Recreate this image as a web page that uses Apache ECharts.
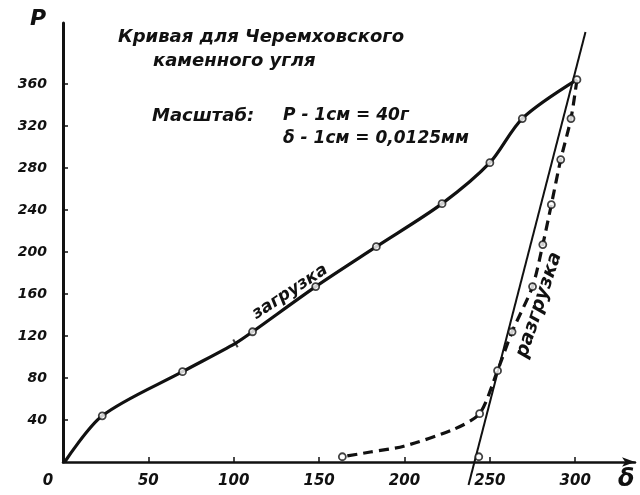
<!DOCTYPE html>
<html><head><meta charset="utf-8">
<script src="https://cdn.jsdelivr.net/npm/echarts@6/dist/echarts.min.js"></script>
<style>html,body{margin:0;padding:0;background:#fff}#c{width:640px;height:495px}</style>
</head><body><div id="c"></div>
<script>
const xTicks=[0,50,100,150,200,250,300];
const yTicks=[40,80,120,160,200,240,280,320,360];
// loading curve (загрузка)
const loadDelta=[1,23,70,101,111,148,183.5,222,250,269,301];
const loadP=[0,44,86,113,124,167,205,246,285,327,364];
const loadMarkDelta=[23,70,111,148,183.5,222,250,269,301];
const loadMarkP=[44,86,124,167,205,246,285,327,364];
const crossDelta=[101];
const crossP=[113];
// unloading curve (разгрузка)
const unloadDelta=[301,297.5,291.5,286,281,275,263,254.5,244,228.7,199.6,180,163.6];
const unloadP=[364,327,288,245,207,167,124,87,46,31,15,9.5,5];
const unloadMarkDelta=[297.5,291.5,286,281,275,263,254.5,244,163.6];
const unloadMarkP=[327,288,245,207,167,124,87,46,5];
// straight tangent line
const tangentDelta=[237.5,306];
const tangentP=[-22,409.5];
const interceptDelta=[243.5];
const interceptP=[5];

const zip=(a,b)=>a.map((v,i)=>[v,b[i]]);
const F="'DejaVu Sans'";
const lbl={fontFamily:'DejaVu Sans',fontStyle:'italic',fontWeight:'bold',fontSize:14,color:'#111'};
const circ={type:'scatter',symbol:'circle',symbolSize:7,itemStyle:{color:'#fff',borderColor:'#111',borderWidth:1.8},z:5,silent:true};

const chart=echarts.init(document.getElementById('c'));
chart.setOption({
  animation:false,
  backgroundColor:'#fff',
  grid:{left:63,right:5,top:23,bottom:33,outerBoundsMode:'none',containLabel:false},
  xAxis:{type:'value',min:0,max:335,
    axisLine:{show:true,onZero:false,symbol:['none','arrow'],symbolSize:[7,13],lineStyle:{color:'#111',width:2.5}},
    axisTick:{show:true,inside:true,length:5,customValues:xTicks.slice(1),lineStyle:{color:'#111',width:1.5}},
    axisLabel:Object.assign({},lbl,{fontSize:15,margin:12,customValues:xTicks,
      formatter:v=>v===0?'{z|0}':String(v),rich:{z:Object.assign({},lbl,{fontSize:15,padding:[0,30,0,0]})}}),
    splitLine:{show:false}},
  yAxis:{type:'value',min:0,max:418,
    axisLine:{show:true,onZero:false,lineStyle:{color:'#111',width:3}},
    axisTick:{show:true,inside:true,length:5,customValues:yTicks,lineStyle:{color:'#111',width:1.5}},
    axisLabel:Object.assign({},lbl,{margin:16,customValues:yTicks}),
    splitLine:{show:false}},
  series:[
    {type:'line',data:zip(loadDelta,loadP),smooth:0.3,symbol:'none',
      lineStyle:{color:'#111',width:3.2},silent:true,z:3},
    {type:'line',data:zip(unloadDelta,unloadP),smooth:0.25,symbol:'none',
      lineStyle:{color:'#111',width:3.2,type:[10,6]},silent:true,z:3},
    {type:'line',data:zip(tangentDelta,tangentP),symbol:'none',clip:false,
      lineStyle:{color:'#111',width:2},silent:true,z:2},
    Object.assign({},circ,{data:zip(loadMarkDelta,loadMarkP)}),
    Object.assign({},circ,{data:zip(unloadMarkDelta,unloadMarkP)}),
    Object.assign({},circ,{data:zip(interceptDelta,interceptP)}),
    {type:'scatter',data:zip(crossDelta,crossP),symbol:'path://M5,0L5,10M0,5L10,5',symbolSize:9,symbolRotate:30,
      itemStyle:{color:'none',borderColor:'#111',borderWidth:2},z:5,silent:true}
  ],
  graphic:[
    {type:'text',x:118,y:28,style:{text:'Кривая для Черемховского',font:"italic bold 18px "+F,fill:'#111'}},
    {type:'text',x:153,y:52,style:{text:'каменного угля',font:"italic bold 18px "+F,fill:'#111'}},
    {type:'text',x:152,y:107,style:{text:'Масштаб:',font:"italic bold 18px "+F,fill:'#111'}},
    {type:'text',x:283,y:107,style:{text:'P - 1см = 40г',font:"italic bold 17px "+F,fill:'#111'}},
    {type:'text',x:283,y:130,style:{text:'δ - 1см = 0,0125мм',font:"italic bold 17px "+F,fill:'#111'}},
    {type:'text',x:30,y:8,style:{text:'P',font:"italic bold 22px "+F,fill:'#111'}},
    {type:'text',x:618,y:468,style:{text:'δ',font:"italic bold 24px "+F,fill:'#111'}},
    {type:'text',x:290,y:292,rotation:0.58,style:{text:'загрузка',font:"italic bold 17px "+F,fill:'#111',align:'center',verticalAlign:'middle',textAlign:'center',textVerticalAlign:'middle'}},
    {type:'text',x:539,y:305,rotation:1.25,style:{text:'разгрузка',font:"italic bold 19px "+F,fill:'#111',align:'center',verticalAlign:'middle',textAlign:'center',textVerticalAlign:'middle'}}
  ]
});
</script></body></html>
